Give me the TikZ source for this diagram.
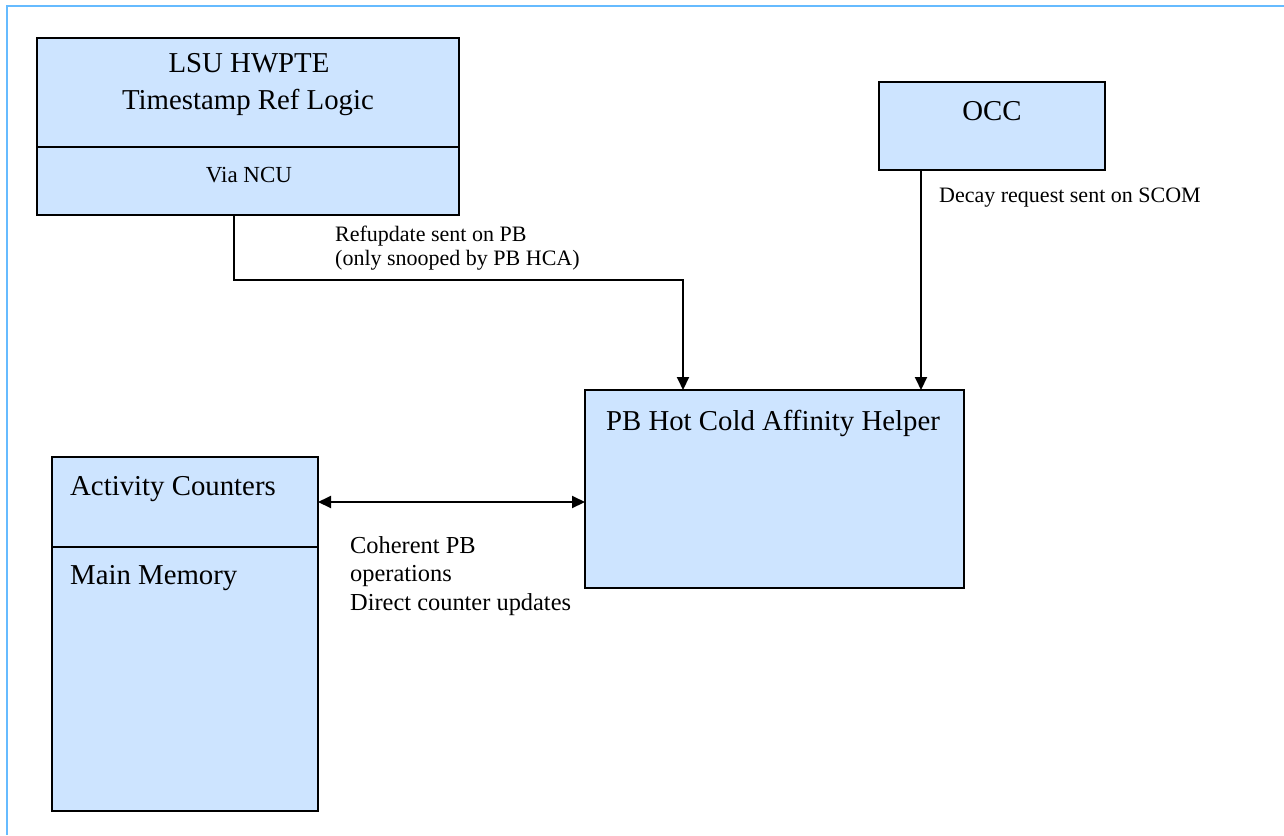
\documentclass[tikz,border=0pt]{standalone}
\usepackage{fontspec}
\setmainfont{Liberation Serif}[Ligatures=NoCommon]
\usetikzlibrary{arrows.meta}

\definecolor{boxfill}{RGB}{205,228,255}
\definecolor{framecol}{RGB}{102,187,255}

\tikzset{
  blk/.style={draw=black, line width=2pt, fill=boxfill, rectangle,
              inner sep=0pt, outer sep=0pt, anchor=north west},
  bigtxt/.style={inner sep=0pt, font=\fontsize{28.8pt}{32pt}\selectfont},
  midtxt/.style={inner sep=0pt, font=\fontsize{23pt}{27pt}\selectfont},
  smalltxt/.style={inner sep=0pt, anchor=base west, font=\fontsize{22pt}{26pt}\selectfont},
  lowtxt/.style={inner sep=0pt, anchor=base west, font=\fontsize{24.4pt}{28pt}\selectfont},
  conn/.style={draw=black, line width=2pt},
  tip/.style={-{Triangle[length=13pt,width=12pt]}},
  dbltip/.style={{Triangle[length=13pt,width=12pt]}-{Triangle[length=13pt,width=12pt]}}
}

\begin{document}
\begin{tikzpicture}[x=1pt, y=-1pt]
  % page area
  \useasboundingbox (0,0) rectangle (1284,835);
  \fill[white] (0,0) rectangle (1284,835);
  % light blue frame along the top and left edges
  \draw[framecol, line width=2.4pt] (7,835) -- (7,6) -- (1284,6);

  % boxes
  \node[blk, minimum width=422pt, minimum height=109pt] (lsuhead) at (37,38) {};
  \node[blk, minimum width=422pt, minimum height=68pt]  (lsuvia)  at (37,147) {};
  \node[blk, minimum width=226pt, minimum height=88pt]  (occ)     at (879,82) {};
  \node[blk, minimum width=379pt, minimum height=198pt] (hca)     at (585,390) {};
  \node[blk, minimum width=266pt, minimum height=90pt]  (acc)     at (52,457) {};
  \node[blk, minimum width=266pt, minimum height=264pt] (mem)     at (52,547) {};

  % box texts
  \node[bigtxt, anchor=base] (t1) at (249,72)  {LSU HWPTE};
  \node[bigtxt, anchor=base] (t2) at (248,109) {Timestamp Ref Logic};
  \node[midtxt, anchor=base] (t3) at (249,182) {Via NCU};
  \node[bigtxt, anchor=base] (t4) at (992,120) {OCC};
  \node[bigtxt, anchor=base] (t5) at (773,430) {PB Hot Cold Affinity Helper};
  \node[bigtxt, anchor=base west] (t6) at (70,495) {Activity Counters};
  \node[bigtxt, anchor=base west] (t7) at (70,584) {Main Memory};

  % connectors
  \coordinate (lsuout) at ([xshift=197pt]lsuvia.south west);
  \coordinate (bend) at (683,280);
  \draw[conn, tip] (lsuout) |- (bend) -- (bend |- hca.north);

  \coordinate (occout) at ([xshift=42pt]occ.south west);
  \draw[conn, tip] (occout) -- (occout |- hca.north);

  \draw[conn, dbltip] (acc.east) -- (acc.east -| hca.west);

  % connector labels
  \node[smalltxt] (l1) at (335,241) {Refupdate sent on PB};
  \node[smalltxt] (l2) at (335,265) {(only snooped by PB HCA)};
  \node[smalltxt] (l3) at (939,202) {Decay request sent on SCOM};
  \node[lowtxt] (l4) at (350,553) {Coherent PB};
  \node[lowtxt] (l5) at (350,581) {operations};
  \node[lowtxt] (l6) at (350,610) {Direct counter updates};
\end{tikzpicture}
\end{document}
